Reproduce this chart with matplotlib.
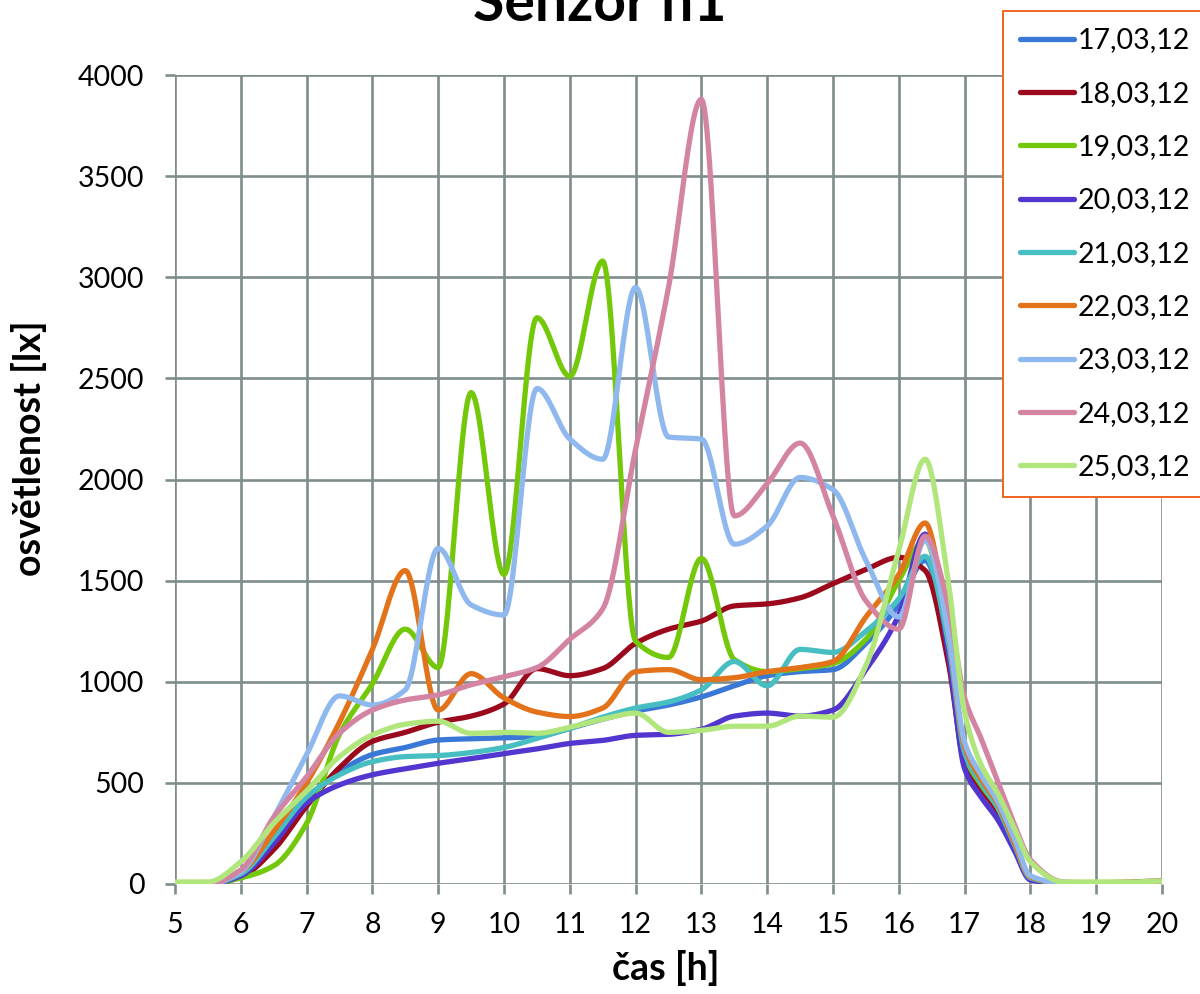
import numpy as np
import matplotlib
matplotlib.use("Agg")
import matplotlib.pyplot as plt

plt.rcParams['font.family'] = ['Lato', 'DejaVu Sans']

# Measurement times [h]
hours = [5.0, 5.5, 6.0, 6.5, 7.0, 7.5, 8.0, 8.5, 9.0, 9.5, 10.0, 10.5, 11.0, 11.5,
         12.0, 12.5, 13.0, 13.5, 14.0, 14.5, 15.0, 15.5, 16.0, 16.4, 16.75, 17.0,
         17.25, 17.5, 17.75, 18.0, 18.5, 19.0, 19.5, 20.0]

# Illuminance [lx] per day
d17 = [0, 0, 60, 220, 420, 555, 640, 675, 712, 718, 722, 730, 770, 815, 855, 885, 925,
       980, 1030, 1050, 1060, 1190, 1380, 1600, 1200, 640, 480, 360, 190, 30, 5, 5, 5, 10]
d18 = [0, 0, 35, 170, 385, 575, 705, 750, 800, 830, 890, 1065, 1030, 1065, 1190, 1260,
       1300, 1375, 1385, 1415, 1485, 1555, 1615, 1550, 1100, 600, 470, 360, 190, 25, 5, 5, 10, 15]
d19 = [0, 0, 30, 90, 300, 740, 990, 1260, 1070, 2430, 1530, 2800, 2510, 3080, 1200, 1120,
       1610, 1110, 1050, 1065, 1090, 1210, 1500, 1700, 1200, 640, 490, 380, 200, 30, 5, 5, 5, 10]
d20 = [0, 0, 40, 200, 400, 490, 540, 570, 597, 620, 645, 668, 695, 710, 735, 740, 765,
       830, 845, 830, 860, 1060, 1330, 1730, 1150, 570, 430, 320, 170, 20, 5, 5, 5, 10]
d21 = [0, 0, 50, 230, 430, 540, 605, 630, 635, 650, 675, 720, 770, 825, 870, 900, 960,
       1100, 980, 1160, 1145, 1250, 1410, 1620, 1200, 650, 500, 380, 200, 30, 5, 5, 5, 10]
d22 = [0, 0, 60, 260, 500, 800, 1160, 1550, 860, 1040, 920, 850, 828, 870, 1050, 1060,
       1010, 1020, 1050, 1070, 1100, 1320, 1530, 1785, 1250, 680, 520, 400, 210, 35, 5, 5, 5, 10]
d23 = [0, 0, 60, 330, 640, 930, 885, 960, 1660, 1380, 1330, 2450, 2200, 2100, 2950, 2210,
       2200, 1680, 1770, 2010, 1950, 1600, 1320, 1700, 1250, 700, 540, 410, 230, 40, 5, 5, 5, 10]
d24 = [0, 0, 70, 330, 530, 746, 860, 910, 935, 985, 1025, 1070, 1210, 1360, 2150, 2950,
       3880, 1820, 1980, 2180, 1820, 1400, 1260, 1720, 1380, 920, 720, 510, 300, 120, 10, 5, 5, 10]
d25 = [10, 10, 110, 300, 460, 630, 737, 790, 805, 745, 750, 745, 775, 815, 845, 750, 760,
       780, 780, 830, 825, 1080, 1650, 2100, 1500, 850, 590, 450, 280, 110, 10, 10, 10, 15]

labels = ["17,03,12", "18,03,12", "19,03,12", "20,03,12", "21,03,12",
          "22,03,12", "23,03,12", "24,03,12", "25,03,12"]
series = [d17, d18, d19, d20, d21, d22, d23, d24, d25]
colors = ["#3a78d8", "#9b0a1c", "#74c80a", "#5236cf", "#46bec2",
          "#e3731a", "#8fb9ee", "#d484a3", "#b1e67c"]


def smooth(x, y, n=24):
    """Shape-preserving cubic (PCHIP) curve through the measured points."""
    x = np.asarray(x, float)
    y = np.asarray(y, float)
    h = np.diff(x)
    d = np.diff(y) / h
    m = np.zeros_like(y)
    for i in range(1, len(y) - 1):
        if d[i - 1] * d[i] > 0:
            w1 = 2 * h[i] + h[i - 1]
            w2 = h[i] + 2 * h[i - 1]
            m[i] = (w1 + w2) / (w1 / d[i - 1] + w2 / d[i])
    m[0], m[-1] = d[0], d[-1]
    xs, ys = [], []
    for i in range(len(x) - 1):
        t = np.linspace(0, 1, n, endpoint=False)
        h00 = 2 * t**3 - 3 * t**2 + 1
        h10 = t**3 - 2 * t**2 + t
        h01 = -2 * t**3 + 3 * t**2
        h11 = t**3 - t**2
        xs.append(x[i] + t * h[i])
        ys.append(h00 * y[i] + h10 * h[i] * m[i] + h01 * y[i + 1] + h11 * h[i] * m[i + 1])
    xs.append([x[-1]])
    ys.append([y[-1]])
    return np.concatenate(xs), np.concatenate(ys)


fig = plt.figure(figsize=(12, 9.94), dpi=100)
ax = fig.add_axes([175 / 1200, 1 - 884 / 994, (1162 - 175) / 1200, (884 - 75) / 994])

grid_col = "#7f8c8c"
for lbl, ys, c in zip(labels, series, colors):
    sx, sy = smooth(hours, ys)
    ax.plot(sx, sy, color=c, lw=3.8, label=lbl, solid_capstyle='round',
            solid_joinstyle='round', zorder=3)

ax.set_xlim(5, 20)
ax.set_ylim(0, 4000)
ax.set_xticks(range(5, 21))
ax.set_yticks(range(0, 4001, 500))
ax.grid(True, color=grid_col, lw=1.9, zorder=0)
ax.set_axisbelow(True)
for s in ax.spines.values():
    s.set_visible(False)
ax.tick_params(axis='both', colors=grid_col, width=1.9, labelcolor='black', labelsize=20.5)
ax.tick_params(axis='y', length=7, pad=15)
ax.tick_params(axis='x', length=7, pad=13)

fig.text(666 / 1200, 1 - 968 / 994, "čas [h]", ha='center', va='center',
         fontsize=27, fontweight='bold')
fig.text(29 / 1200, 1 - 448 / 994, "osvětlenost [lx]", ha='center', va='center',
         rotation=90, fontsize=27, fontweight='bold')
fig.text(600 / 1200, 1 - 21 / 994, "Senzor n1", ha='center', va='baseline',
         fontsize=41, fontweight='bold')

leg = ax.legend(loc='upper left', bbox_to_anchor=(1003 / 1200, 1 - 11 / 994),
                bbox_transform=fig.transFigure, fontsize=20.5, frameon=True,
                fancybox=False, framealpha=1, edgecolor="#f0641e",
                handlelength=1.9, handletextpad=0.15, labelspacing=0.96,
                borderpad=0.58, borderaxespad=0)
leg.get_frame().set_linewidth(1.4)
for line in leg.get_lines():
    line.set_linewidth(3.8)
    line.set_solid_capstyle('round')
leg.set_zorder(10)

fig.savefig("out.png", dpi=100)
